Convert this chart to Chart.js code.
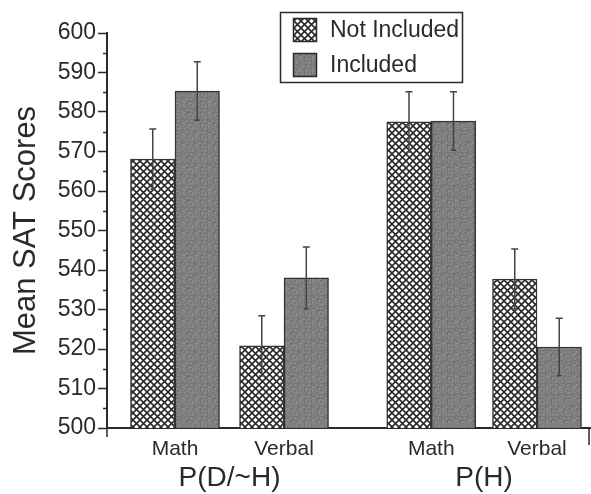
<!DOCTYPE html>
<html>
<head>
<meta charset="utf-8">
<script src="https://cdn.jsdelivr.net/npm/chart.js@4/dist/chart.umd.min.js"></script>
<style>
  html, body { margin: 0; padding: 0; background: #fff; }
  canvas { display: block; }
</style>
</head>
<body>
<canvas id="satChart" width="591" height="494"></canvas>
<script>
// Datos
const grupos = ['P(D/~H)', 'P(H)'];
const materias = ['Math', 'Verbal', 'Math', 'Verbal'];
const posX = [1, 2, 3.35, 4.32];        // posición de cada par de barras
const posGrupo = [1.5, 3.835];          // centro de cada grupo
const series = ['Not Included', 'Included'];
const noIncluido = [568.1, 520.8, 577.5, 537.7];
const incluido = [585.3, 538.0, 577.7, 520.5];
const errNoIncluido = [7.6, 7.6, 7.6, 7.6];
const errIncluido = [7.4, 7.8, 7.4, 7.3];
const yMin = 500, yMax = 600, yPaso = 10;

const tinta = '#2a2a2a';
const fuente = '"Liberation Sans", Arial, Helvetica, sans-serif';

// Patrón cuadriculado diagonal
function patronCruzado() {
    const c = document.createElement('canvas');
    c.width = 7; c.height = 7;
    const g = c.getContext('2d');
    g.fillStyle = '#fff';
    g.fillRect(0, 0, 7, 7);
    g.strokeStyle = '#2a2a2a';
    g.lineWidth = 1.6;
    g.beginPath();
    g.moveTo(-1, -1); g.lineTo(8, 8);
    g.moveTo(8, -1); g.lineTo(-1, 8);
    g.stroke();
    return g.createPattern(c, 'repeat');
}

// Patrón gris punteado
function patronGris() {
    const c = document.createElement('canvas');
    c.width = 13; c.height = 11;
    const g = c.getContext('2d');
    const img = g.createImageData(13, 11);
    for (let y = 0; y < 11; y++) {
        for (let x = 0; x < 13; x++) {
            const v = 128 + ((x * 37 + y * 91 + x * y * 13) % 31) - 15;
            const k = (y * 13 + x) * 4;
            img.data[k] = v; img.data[k + 1] = v; img.data[k + 2] = v; img.data[k + 3] = 255;
        }
    }
    g.putImageData(img, 0, 0);
    return g.createPattern(c, 'repeat');
}

const rellenos = [patronCruzado(), patronGris()];
const errores = [errNoIncluido, errIncluido];

// Barras de error
const pluginErrores = {
    id: 'errores',
    afterDatasetsDraw(chart) {
        const ctx = chart.ctx;
        const y = chart.scales.y;
        ctx.save();
        ctx.strokeStyle = '#444';
        ctx.lineWidth = 1.5;
        chart.data.datasets.forEach((ds, d) => {
            const meta = chart.getDatasetMeta(d);
            meta.data.forEach((bar, i) => {
                const v = ds.data[i].y;
                const e = errores[d][i];
                const yt = y.getPixelForValue(v + e);
                const yb = y.getPixelForValue(v - e);
                ctx.beginPath();
                ctx.moveTo(bar.x, yt); ctx.lineTo(bar.x, yb);
                ctx.moveTo(bar.x - 3.5, yt); ctx.lineTo(bar.x + 3.5, yt);
                ctx.moveTo(bar.x - 2.5, yb); ctx.lineTo(bar.x + 2.5, yb);
                ctx.stroke();
            });
        });
        ctx.restore();
    }
};

// Marcas menores del eje y y leyenda con recuadro
const pluginEjes = {
    id: 'ejes',
    afterDraw(chart) {
        const ctx = chart.ctx;
        const y = chart.scales.y;
        const area = chart.chartArea;
        ctx.save();
        ctx.strokeStyle = tinta;
        ctx.lineWidth = 1.5;
        ctx.beginPath();
        for (let v = yMin + yPaso / 2; v < yMax; v += yPaso) {
            const py = Math.round(y.getPixelForValue(v)) + 0.5;
            ctx.moveTo(area.left, py); ctx.lineTo(area.left - 4, py);
        }
        ctx.moveTo(area.left, area.bottom); ctx.lineTo(area.left, area.bottom + 9);
        ctx.moveTo(area.right - 1, area.bottom); ctx.lineTo(area.right - 1, area.bottom + 17);
        ctx.stroke();

        // leyenda
        ctx.lineWidth = 1.5;
        ctx.strokeRect(280.5, 12.5, 182, 70);
        ctx.font = '23px ' + fuente;
        ctx.textBaseline = 'middle';
        chart.data.datasets.forEach((ds, d) => {
            const top = 18 + d * 35;
            ctx.fillStyle = ds.backgroundColor;
            ctx.fillRect(293, top, 24, 24);
            ctx.strokeStyle = tinta;
            ctx.strokeRect(293.5, top + 0.5, 23, 23);
            ctx.fillStyle = tinta;
            ctx.fillText(ds.label, 330, top + 13);
        });
        ctx.restore();
    }
};

new Chart(document.getElementById('satChart'), {
    type: 'bar',
    data: {
        datasets: series.map((nombre, d) => ({
            label: nombre,
            data: posX.map((x, i) => ({ x: x, y: (d === 0 ? noIncluido : incluido)[i] })),
            backgroundColor: rellenos[d],
            borderColor: '#333',
            borderWidth: 1.5,
            barThickness: 44.5
        }))
    },
    options: {
        responsive: false,
        animation: false,
        devicePixelRatio: 1,
        layout: { padding: { top: 33, right: 1, bottom: 0, left: 0 } },
        plugins: {
            legend: { display: false },
            tooltip: { enabled: false }
        },
        scales: {
            x: {
                type: 'linear',
                position: 'bottom',
                weight: 0,
                min: 0.3764,
                max: 4.806,
                offset: false,
                grid: { display: false, drawTicks: false },
                border: { display: true, color: tinta, width: 2 },
                afterBuildTicks: ax => { ax.ticks = posX.map(v => ({ value: v })); },
                afterFit: ax => { ax.height = 30; },
                ticks: {
                    autoSkip: false,
                    maxRotation: 0,
                    padding: 9,
                    color: tinta,
                    font: { family: fuente, size: 21 },
                    callback: (v, i) => materias[i]
                }
            },
            x2: {
                type: 'linear',
                position: 'bottom',
                weight: 1,
                min: 0.3764,
                max: 4.806,
                offset: false,
                grid: { display: false, drawTicks: false },
                border: { display: false },
                afterBuildTicks: ax => { ax.ticks = posGrupo.map(v => ({ value: v })); },
                afterFit: ax => { ax.height = 36; },
                ticks: {
                    autoSkip: false,
                    maxRotation: 0,
                    padding: 3,
                    color: tinta,
                    font: { family: fuente, size: 28 },
                    callback: (v, i) => grupos[i]
                }
            },
            y: {
                min: yMin,
                max: yMax,
                afterFit: ax => { ax.width = 107; },
                grid: {
                    drawOnChartArea: false,
                    drawTicks: true,
                    tickLength: 9,
                    tickColor: tinta,
                    tickWidth: 1.5
                },
                border: { display: true, color: tinta, width: 2 },
                ticks: {
                    stepSize: yPaso,
                    padding: 2,
                    color: tinta,
                    font: { family: fuente, size: 23 }
                },
                title: {
                    display: true,
                    text: 'Mean SAT Scores',
                    color: tinta,
                    padding: { top: 8, bottom: 0 },
                    font: { family: fuente, size: 31 }
                }
            }
        }
    },
    plugins: [pluginErrores, pluginEjes]
});
</script>
</body>
</html>
